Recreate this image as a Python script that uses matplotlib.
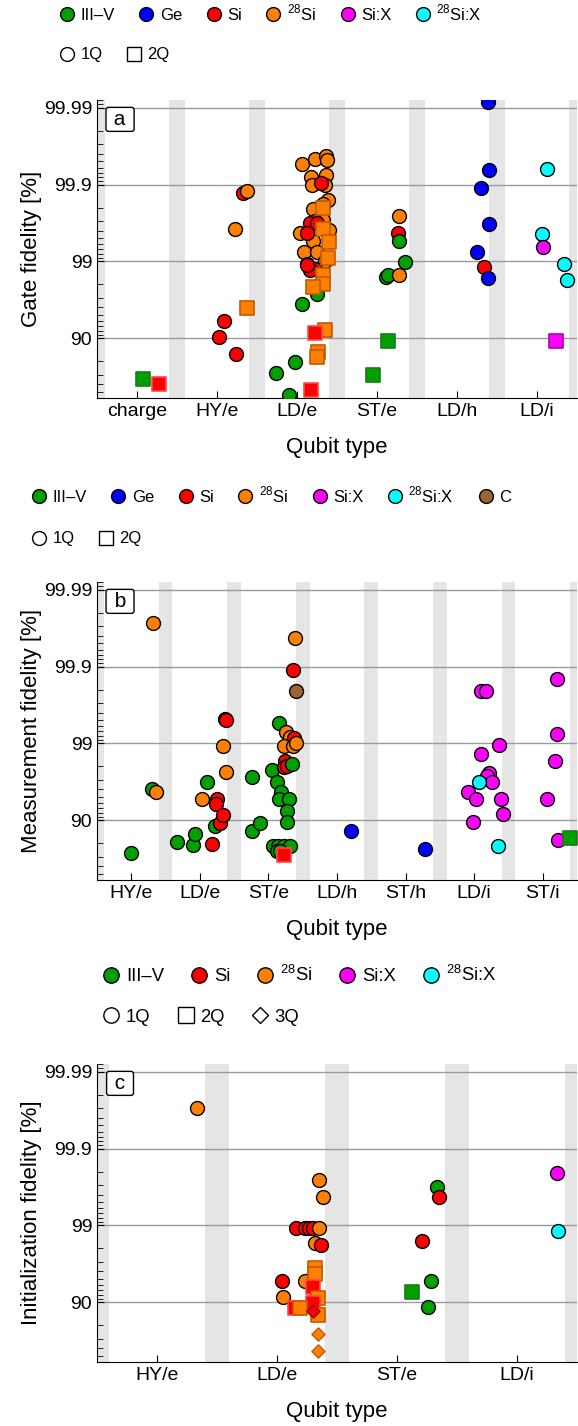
import matplotlib.pyplot as plt
from matplotlib.lines import Line2D
from matplotlib.ticker import NullFormatter

plt.rcParams['font.family'] = ['Liberation Sans', 'DejaVu Sans']
plt.rcParams['mathtext.fontset'] = 'custom'
plt.rcParams['mathtext.rm'] = 'Liberation Sans'

# material colours and legend labels
colors = {'III-V': '#00a000', 'Ge': '#0000ff', 'Si': '#ff0000', '28Si': '#ff8000',
          'Si:X': '#ff00ff', '28Si:X': '#00ffff', 'C': '#996633'}
sq_edge = {'III-V': '#1a7a1a', 'Si': '#ff4848', '28Si': '#c05a00', 'Si:X': '#b000b0'}
dia_edge = {'Si': '#a00000', '28Si': '#c05a00'}
names = {'III-V': 'III\u2013V', 'Ge': 'Ge', 'Si': 'Si', '28Si': r'$^{28}$Si',
         'Si:X': 'Si:X', '28Si:X': r'$^{28}$Si:X', 'C': 'C'}

# ---------------- panel a: gate fidelity ----------------
a_types = ['charge', 'HY/e', 'LD/e', 'ST/e', 'LD/h', 'LD/i']
a_x = [0.07, 0.27,
       1.03, 1.09, 1.24, 1.23, 1.32, 1.37, 1.37,
       1.90, 1.74, 1.98, 2.06, 2.25,
       2.06, 2.22, 2.36, 2.37, 2.17, 2.36, 2.19, 2.35, 2.39, 2.33, 2.20, 2.33, 2.22,
       2.04, 2.40, 2.20, 2.09, 2.25, 2.35,
       2.30, 2.16, 2.25, 2.12, 2.12, 2.22, 2.16, 2.12,
       2.33, 2.33, 2.40, 2.39, 2.33, 2.33, 2.20, 2.35, 2.26, 2.25,
       2.22, 2.17,
       3.27, 3.26, 3.28, 3.35, 3.11, 3.14, 3.27, 3.14, 2.95,
       4.39, 4.40, 4.30, 4.40, 4.25, 4.34, 4.39,
       5.13, 5.06, 5.08, 5.34, 5.375, 5.24]
a_fid = [65.3, 60.2,
         90.2, 94.0, 83.8, 99.62, 99.87, 99.88, 95.97,
         44.7, 71.2, 79.6, 96.4, 97.3,
         99.946, 99.953, 99.957, 99.952, 99.92, 99.925, 99.90, 99.90, 99.84, 99.82, 99.79, 99.71, 99.70,
         99.57, 99.61, 99.46, 99.24, 99.24, 99.02,
         99.905, 99.68, 99.68, 99.57, 98.93, 98.75, 98.7, 98.88,
         99.80, 99.62, 99.44, 99.09, 98.49, 98.0, 97.86, 92.1, 84.9, 82.5,
         91.3, 52.2,
         99.74, 99.57, 99.46, 98.98, 98.38, 98.5, 98.49, 89.2, 69.8,
         99.9915, 99.935, 99.89, 99.67, 99.24, 98.8, 98.36,
         99.937, 99.56, 99.35, 98.93, 98.25, 89.1]
a_mat = ['III-V', 'Si',
         'Si', 'Si', 'Si', '28Si', 'Si', '28Si', '28Si',
         'III-V', 'III-V', 'III-V', 'III-V', 'III-V'] + ['28Si'] * 19 + ['Si'] * 8 + \
        ['28Si'] * 10 + ['Si', 'Si'] + \
        ['28Si', 'Si', 'III-V', 'III-V', 'III-V', 'III-V', '28Si', 'III-V', 'III-V'] + \
        ['Ge', 'Ge', 'Ge', 'Ge', 'Ge', 'Si', 'Ge'] + \
        ['28Si:X', '28Si:X', 'Si:X', '28Si:X', '28Si:X', 'Si:X']
a_nq = [2, 2,
        1, 1, 1, 1, 1, 1, 2,
        1, 1, 1, 1, 1] + [1] * 27 + [2] * 12 + \
       [1, 1, 1, 1, 1, 1, 1, 2, 2] + [1] * 7 + [1, 1, 1, 1, 1, 2]

# ---------------- panel b: measurement fidelity ----------------
b_types = ['HY/e', 'LD/e', 'ST/e', 'LD/h', 'ST/h', 'LD/i', 'ST/i']
b_x = [0.32, 0.30, 0.36, 0.0,
       0.66, 0.90, 0.93, 1.03, 1.10, 1.25, 1.24, 1.22, 1.29, 1.34, 1.17, 1.37, 1.38, 1.34, 1.38,
       1.76, 1.76, 1.87, 2.05, 2.16, 2.39, 2.36, 2.40, 2.26, 2.31, 2.37, 2.22, 2.36, 2.40,
       2.24, 2.22, 2.27, 2.35, 2.13, 2.19, 2.15, 2.30, 2.27, 2.27,
       2.07, 2.14, 2.22, 2.31, 2.12, 2.17, 2.23,
       3.21, 4.28,
       5.10, 5.17, 5.36, 5.10, 5.22, 5.19, 5.26, 5.07, 4.91, 5.02, 5.39, 5.42, 4.99, 5.35,
       6.21, 6.21, 6.18, 6.06, 6.23, 6.40]
b_fid = [99.973, 96.1, 95.7, 72.9,
         80.9, 78.7, 84.9, 94.6, 96.8, 94.7, 93.8, 88.0, 89.0, 91.4, 79.6, 99.52, 99.5, 98.92, 97.66,
         97.25, 85.9, 89.2, 97.8, 99.46, 99.957, 99.89, 99.79, 99.28, 99.17, 99.15, 98.93, 98.93, 99.0,
         98.3, 97.95, 98.0, 98.14, 96.8, 95.7, 94.6, 94.6, 92.4, 89.3,
         78.1, 78.1, 78.1, 78.1, 74.3, 74.3, 71.5,
         85.9, 76.0,
         99.79, 99.79, 98.94, 98.62, 97.54, 97.37, 96.8, 96.8, 95.7, 94.6, 94.6, 91.6, 89.3, 78.5,
         99.854, 99.25, 98.29, 94.6, 81.8, 82.6]
b_mat = ['28Si', 'III-V', '28Si', 'III-V',
         'III-V', 'III-V', 'III-V', '28Si', 'III-V', 'Si', 'Si', 'III-V', 'Si', 'Si', 'Si', 'Si', 'Si',
         '28Si', '28Si',
         'III-V', 'III-V', 'III-V', 'III-V', 'III-V', '28Si', 'Si', 'C', '28Si', '28Si', 'Si', '28Si',
         '28Si', '28Si',
         'Si', 'Si', 'Si', 'III-V', 'III-V', 'III-V', 'III-V', 'III-V', 'III-V', 'III-V',
         'III-V', 'III-V', 'III-V', 'III-V', 'III-V', 'III-V', 'Si',
         'Ge', 'Ge',
         'Si:X', 'Si:X', 'Si:X', 'Si:X', 'Si:X', 'Si:X', 'Si:X', '28Si:X', 'Si:X', 'Si:X', 'Si:X', 'Si:X',
         'Si:X', '28Si:X',
         'Si:X', 'Si:X', 'Si:X', 'Si:X', 'Si:X', 'III-V']
b_nq = [1] * 49 + [2] + [1] * 2 + [1] * 14 + [1, 1, 1, 1, 1, 2]

# ---------------- panel c: initialization fidelity ----------------
c_types = ['HY/e', 'LD/e', 'ST/e', 'LD/i']
c_x = [0.33,
       1.04, 1.05, 1.16, 1.35, 1.38, 1.23, 1.27, 1.30, 1.35, 1.32, 1.37, 1.23,
       1.32, 1.32, 1.30, 1.34, 1.30, 1.15, 1.19, 1.34,
       1.30, 1.34, 1.34,
       2.33, 2.35, 2.21, 2.28, 2.125, 2.26,
       3.33, 3.34]
c_fid = [99.97,
         94.7, 91.5, 98.92, 99.74, 99.57, 98.92, 98.92, 98.92, 98.92, 98.3, 98.18, 94.7,
         96.4, 95.7, 93.6, 91.1, 89.8, 88.1, 88.1, 85.2,
         87.0, 73.7, 56.4,
         99.68, 99.57, 98.38, 94.7, 92.5, 88.3,
         99.79, 98.8]
c_mat = ['28Si',
         'Si', '28Si', 'Si', '28Si', '28Si', 'Si', 'Si', 'Si', '28Si', '28Si', 'Si', '28Si',
         '28Si', '28Si', 'Si', '28Si', 'Si', 'Si', '28Si', '28Si',
         'Si', '28Si', '28Si',
         'III-V', 'Si', 'Si', 'III-V', 'III-V', 'III-V',
         'Si:X', '28Si:X']
c_nq = [1] + [1] * 12 + [2] * 8 + [3] * 3 + [1, 1, 1, 1, 2, 1] + [1, 1]


def draw_panel(ax, types, xs, fids, mats, nqs, ylabel, letter):
    n = len(types)
    for i in range(n + 1):
        ax.axvspan(i - 0.6, i - 0.4, color='#e5e5e5', lw=0, zorder=0.2)
    for x, f, m, q in zip(xs, fids, mats, nqs):
        if q == 1:
            ax.scatter(x, 100 - f, s=100, marker='o', fc=colors[m], ec='black', lw=1, zorder=3)
        elif q == 2:
            ax.scatter(x, 100 - f, s=95, marker='s', fc=colors[m], ec=sq_edge[m], lw=1.2, zorder=3)
        else:
            ax.scatter(x, 100 - f, s=45, marker='D', fc=colors[m], ec=dia_edge[m], lw=1, zorder=3)
    ax.set_yscale('log')
    ax.set_ylim(60.5, 0.0079)
    ax.set_xlim(-0.5, n - 0.5)
    ax.set_yticks([10, 1, 0.1, 0.01], ['90', '99', '99.9', '99.99'])
    ax.yaxis.set_minor_formatter(NullFormatter())
    ax.set_xticks(range(n), types)
    ax.set_axisbelow(True)
    ax.yaxis.grid(True, which='major', color='#9a9a9a', lw=1)
    for s in ['top', 'right']:
        ax.spines[s].set_visible(False)
    ax.tick_params(which='both', direction='in', labelsize=14)
    ax.tick_params(which='major', length=5)
    ax.tick_params(which='minor', length=4)
    ax.set_ylabel(ylabel, fontsize=16)
    ax.set_xlabel('Qubit type', fontsize=16)
    ax.yaxis.set_label_coords(-0.115, 0.5)
    ax.xaxis.set_label_coords(0.5, -0.13)
    ax.text(0.048, 0.935, ' ' + letter + ' ', transform=ax.transAxes, ha='center', va='center',
            fontsize=15, zorder=5,
            bbox=dict(boxstyle='round,pad=0.12', fc='white', ec='black', lw=1))


def add_legends(fig, mat_list, shapes, xc, y1, y2, size):
    # xc: centre of first legend marker in pixels
    ms = size * 0.83
    x0 = (xc - 0.4 * size * 100 / 72) / W
    h1 = [Line2D([], [], ls='none', marker='o', ms=ms, mfc=colors[m], mec='black', mew=1,
                 label=names[m]) for m in mat_list]
    fig.legend(handles=h1, loc='center left', bbox_to_anchor=(x0, 1 - y1 / H), ncol=len(h1),
               frameon=False, fontsize=size, handlelength=0.8, handletextpad=0.4,
               columnspacing=1.5, borderpad=0, borderaxespad=0)
    mk = {'1Q': ('o', ms), '2Q': ('s', ms), '3Q': ('D', ms * 0.72)}
    h2 = [Line2D([], [], ls='none', marker=mk[s][0], ms=mk[s][1], mfc='white', mec='black', mew=1,
                 label=s) for s in shapes]
    fig.legend(handles=h2, loc='center left', bbox_to_anchor=(x0, 1 - y2 / H), ncol=len(h2),
               frameon=False, fontsize=size, handlelength=0.8, handletextpad=0.4,
               columnspacing=1.5, borderpad=0, borderaxespad=0)


W, H = 578, 1426
fig = plt.figure(figsize=(W / 100, H / 100), dpi=100)

ax_a = fig.add_axes([97 / W, 1 - 398 / H, 480 / W, 298 / H])
ax_b = fig.add_axes([97 / W, 1 - 880 / H, 480 / W, 298 / H])
ax_c = fig.add_axes([97 / W, 1 - 1362 / H, 480 / W, 298 / H])

draw_panel(ax_a, a_types, a_x, a_fid, a_mat, a_nq, 'Gate fidelity [%]', 'a')
draw_panel(ax_b, b_types, b_x, b_fid, b_mat, b_nq, 'Measurement fidelity [%]', 'b')
draw_panel(ax_c, c_types, c_x, c_fid, c_mat, c_nq, 'Initialization fidelity [%]', 'c')

add_legends(fig, ['III-V', 'Ge', 'Si', '28Si', 'Si:X', '28Si:X'], ['1Q', '2Q'],
            67, 13, 55, 12)
add_legends(fig, ['III-V', 'Ge', 'Si', '28Si', 'Si:X', '28Si:X', 'C'], ['1Q', '2Q'],
            39, 495, 539, 12)
add_legends(fig, ['III-V', 'Si', '28Si', 'Si:X', '28Si:X'], ['1Q', '2Q', '3Q'],
            111, 975, 1017, 13.3)

fig.savefig('out.png', dpi=100)
